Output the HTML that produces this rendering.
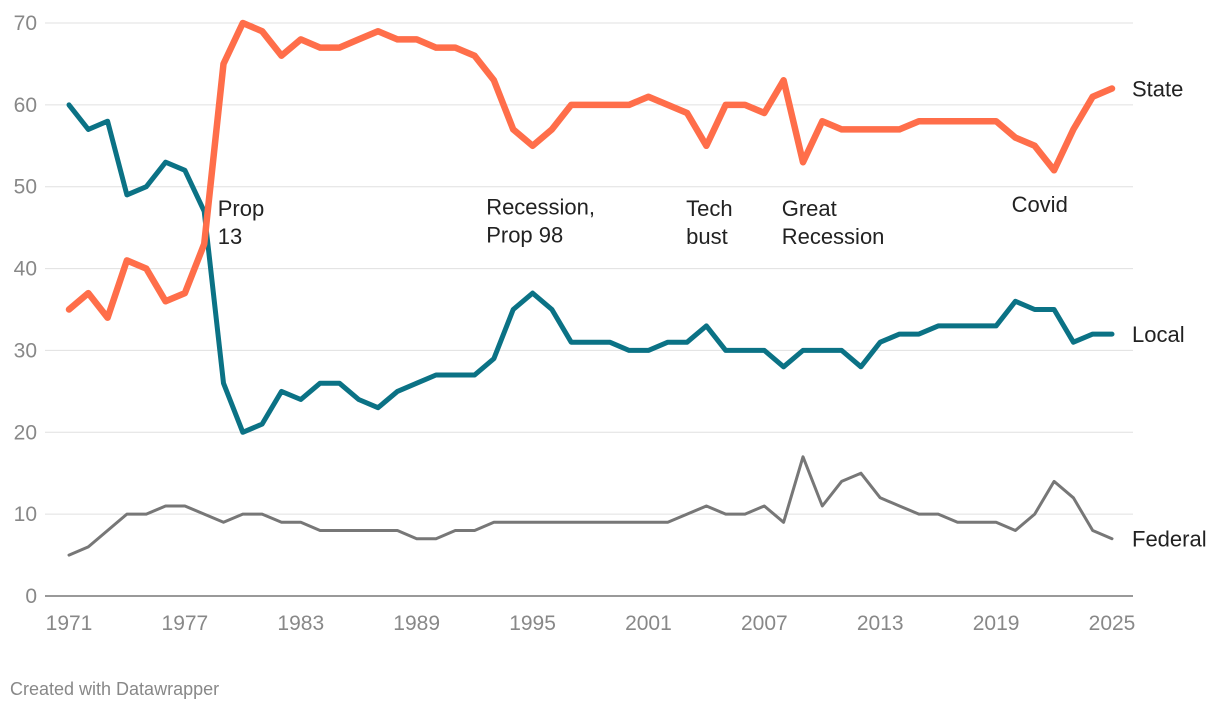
<!DOCTYPE html>
<html><head><meta charset="utf-8"><style>
body{margin:0;background:#fff;width:1220px;height:712px;overflow:hidden;font-family:"Liberation Sans",sans-serif}
</style></head><body>
<svg id="chart" width="1220" height="712" xmlns="http://www.w3.org/2000/svg"></svg>
<script>
const years=[];for(let y=1971;y<=2025;y++)years.push(y);
const stateVals=[35,37,34,41,40,36,37,43,65,70,69,66,68,67,67,68,69,68,68,67,67,66,63,57,55,57,60,60,60,60,61,60,59,55,60,60,59,63,53,58,57,57,57,57,58,58,58,58,58,56,55,52,57,61,62];
const localVals=[60,57,58,49,50,53,52,47,26,20,21,25,24,26,26,24,23,25,26,27,27,27,29,35,37,35,31,31,31,30,30,31,31,33,30,30,30,28,30,30,30,28,31,32,32,33,33,33,33,36,35,35,31,32,32];
const federalVals=[5,6,8,10,10,11,11,10,9,10,10,9,9,8,8,8,8,8,7,7,8,8,9,9,9,9,9,9,9,9,9,9,10,11,10,10,11,9,17,11,14,15,12,11,10,10,9,9,9,8,10,14,12,8,7];
const yTicks=[0,10,20,30,40,50,60,70];
const xTicks=[1971,1977,1983,1989,1995,2001,2007,2013,2019,2025];
const annotations=[{t:["Prop","13"],x:1978.7,y:46.4},{t:["Recession,","Prop 98"],x:1992.6,y:46.6},{t:["Tech","bust"],x:2002.95,y:46.4},{t:["Great","Recession"],x:2007.9,y:46.4},{t:["Covid"],x:2019.8,y:46.9}];
const X=v=>69+(v-1971)*(1112-69)/54;
const Y=v=>596-v*(596-23)/70;
const svg=document.getElementById('chart');const NS='http://www.w3.org/2000/svg';
function mk(tag,attrs,txt){const e=document.createElementNS(NS,tag);for(const k in attrs)e.setAttribute(k,attrs[k]);if(txt!==undefined)e.textContent=txt;svg.appendChild(e);return e;}
yTicks.forEach(v=>{
 const l=mk('line',{x1:45,x2:1133,y1:Y(v),y2:Y(v),stroke:v===0?'#333':'#e0e0e0','stroke-width':1});
 
 
 const t=mk('text',{x:37,y:Y(v)+7,'text-anchor':'end','font-size':21,fill:'#888'},String(v));
 
 
});
xTicks.forEach(v=>{
 const t=mk('text',{x:X(v),y:630,'text-anchor':'middle','font-size':21,fill:'#888'},String(v));
 
 
});
function line(vals,color,w,name,label){
 const d=vals.map((v,i)=>(i?'L':'M')+X(years[i]).toFixed(1)+','+Y(v).toFixed(1)).join('');
 const p=mk('path',{d:d,fill:'none',stroke:color,'stroke-width':w,'stroke-linejoin':'round','stroke-linecap':'round'});
 
 
 const t=mk('text',{x:1132,y:Y(vals[vals.length-1])+8,'font-size':22,fill:'#222'},label);
 
 
}
line(federalVals,'#777',3,'federal','Federal');
line(localVals,'#0b7285',5,'local','Local');
line(stateVals,'#ff6e4a',6.5,'state','State');
annotations.forEach(a=>{
 const t=mk('text',{x:X(a.x),y:Y(a.y),'font-size':22,fill:'#222'});
 
 
 a.t.forEach((s,i)=>{const ts=document.createElementNS(NS,'tspan');ts.setAttribute('x',X(a.x));ts.setAttribute('dy',i?28:0);ts.textContent=s;t.appendChild(ts);});
});
const f=mk('text',{x:10,y:695,'font-size':18,fill:'#888'},'Created with Datawrapper');


</script>
</body></html>
